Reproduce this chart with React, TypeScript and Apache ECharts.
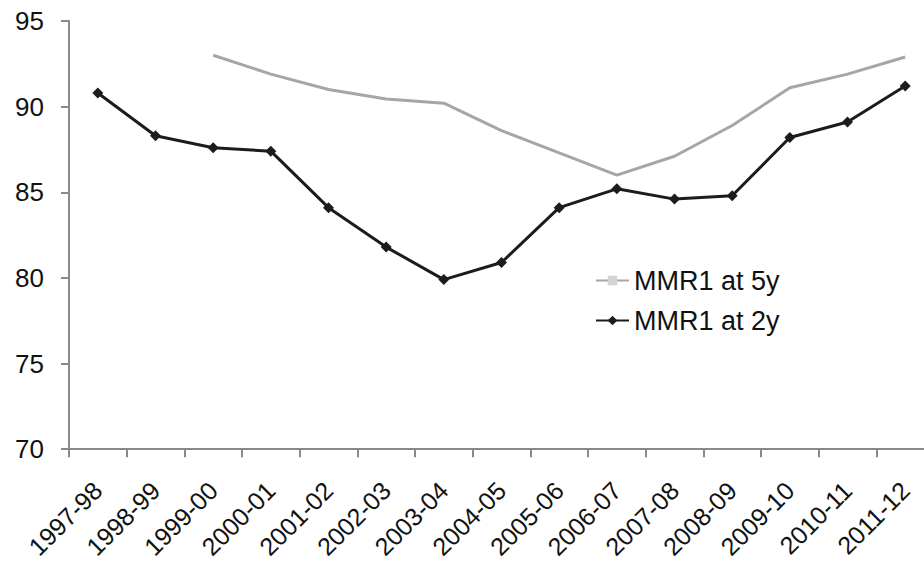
import React, { useEffect, useRef } from "react";
import * as echarts from "echarts";

const categories = [
  "1997-98", "1998-99", "1999-00", "2000-01", "2001-02", "2002-03", "2003-04",
  "2004-05", "2005-06", "2006-07", "2007-08", "2008-09", "2009-10", "2010-11", "2011-12",
];
const mmr1At5y: (number | null)[] = [
  null, null, 93.0, 91.9, 91.0, 90.45, 90.2, 88.6, 87.3, 86.0, 87.1, 88.9, 91.1, 91.9, 92.9,
];
const mmr1At2y: number[] = [
  90.8, 88.3, 87.6, 87.4, 84.1, 81.8, 79.9, 80.9, 84.1, 85.2, 84.6, 84.8, 88.2, 89.1, 91.2,
];
const yTicks = { min: 70, max: 95, interval: 5 };

const FONT = "'Liberation Sans', Arial, sans-serif";

export default function App() {
  const ref = useRef<HTMLDivElement>(null);
  useEffect(() => {
    if (!ref.current) return;
    const chart = echarts.init(ref.current, null, { renderer: "svg" });
    chart.setOption({
      animation: false,
      backgroundColor: "#ffffff",
      textStyle: { fontFamily: FONT },
      grid: { left: 69, right: 0, top: 21, bottom: 109, containLabel: false },
      legend: {
        orient: "vertical",
        left: 590,
        top: 262,
        itemWidth: 33,
        itemHeight: 12,
        itemGap: 13,
        textStyle: { fontFamily: FONT, fontSize: 27, color: "#111" },
        data: ["MMR1 at 5y", "MMR1 at 2y"],
      },
      xAxis: {
        type: "category",
        data: categories,
        boundaryGap: true,
        axisLine: { show: true, lineStyle: { color: "#8a8a8a", width: 2 } },
        axisTick: { show: true, length: 8, lineStyle: { color: "#8a8a8a", width: 2 } },
        axisLabel: {
          rotate: 45,
          interval: 0,
          margin: 37,
          fontFamily: FONT,
          fontSize: 25,
          color: "#111",
        },
        splitLine: { show: false },
      },
      yAxis: {
        type: "value",
        min: yTicks.min,
        max: yTicks.max,
        interval: yTicks.interval,
        axisLine: { show: true, lineStyle: { color: "#8a8a8a", width: 2 } },
        axisTick: { show: true, length: 8, lineStyle: { color: "#8a8a8a", width: 2 } },
        axisLabel: { margin: 25, fontFamily: FONT, fontSize: 26, color: "#111" },
        splitLine: { show: false },
      },
      series: [
        {
          name: "MMR1 at 5y",
          type: "line",
          data: mmr1At5y,
          symbol: "rect",
          symbolSize: 7,
          showSymbol: false,
          connectNulls: false,
          lineStyle: { color: "#a6a6a6", width: 3 },
          itemStyle: { color: "#d4d4d4" },
        },
        {
          name: "MMR1 at 2y",
          type: "line",
          data: mmr1At2y,
          symbol: "diamond",
          symbolSize: 11,
          lineStyle: { color: "#1c1c1c", width: 3 },
          itemStyle: { color: "#1c1c1c" },
        },
      ],
    });
    return () => chart.dispose();
  }, []);
  return (
    <div
      ref={ref}
      style={{ position: "fixed", left: 0, top: 0, width: 934, height: 562 }}
    />
  );
}
